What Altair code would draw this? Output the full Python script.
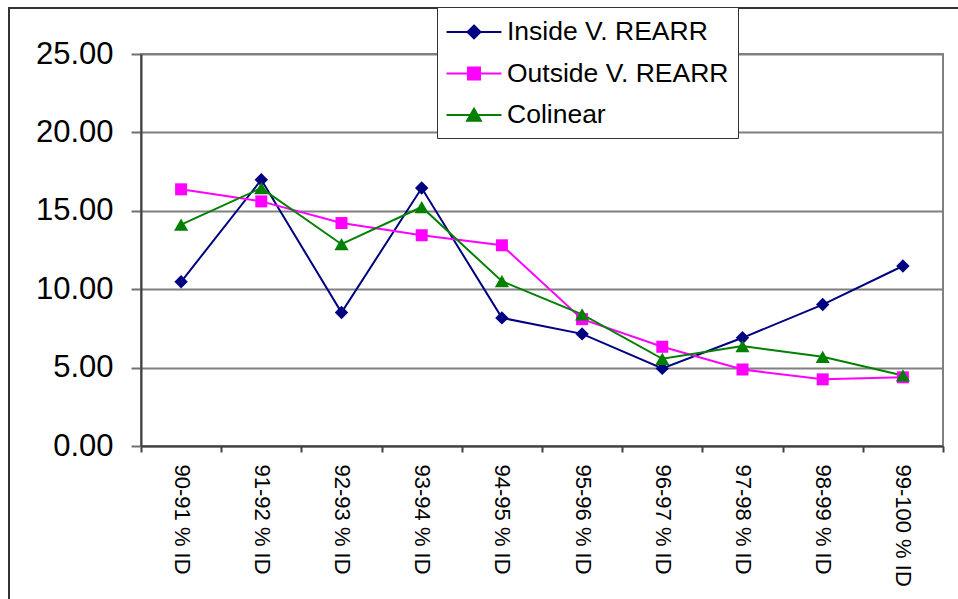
import altair as alt
import pandas as pd

# Percent-identity bins on the x axis
categories = [
    "90-91 % ID", "91-92 % ID", "92-93 % ID", "93-94 % ID", "94-95 % ID",
    "95-96 % ID", "96-97 % ID", "97-98 % ID", "98-99 % ID", "99-100 % ID",
]

# Series values per bin
inside = [10.47, 16.98, 8.51, 16.45, 8.17, 7.15, 4.95, 6.90, 9.02, 11.48]
outside = [16.37, 15.60, 14.22, 13.44, 12.80, 8.09, 6.33, 4.88, 4.25, 4.38]
colinear = [14.12, 16.45, 12.87, 15.24, 10.51, 8.39, 5.56, 6.37, 5.69, 4.50]

series_names = ["Inside V. REARR", "Outside V. REARR", "Colinear"]
series_colors = ["#000080", "#FF00FF", "#008000"]
marker_shapes = ["diamond", "square", "triangle-up"]

# Legend symbols: a short line with the series marker on top
legend_paths = [
    "M-1.83,0L1.83,0M0,-0.43L0.43,0L0,0.43L-0.43,0Z",
    "M-1.83,0L1.83,0M-0.4,-0.4L0.4,-0.4L0.4,0.4L-0.4,0.4Z",
    "M-1.83,0L1.83,0M0,-0.42L0.46,0.38L-0.46,0.38Z",
]

y_ticks = [0, 5, 10, 15, 20, 25]

rows = []
for name, values in zip(series_names, [inside, outside, colinear]):
    for cat, v in zip(categories, values):
        rows.append({"bin": cat, "series": name, "value": v})
df = pd.DataFrame(rows)

FONT = "Liberation Sans"

x_enc = alt.X(
    "bin:N",
    sort=categories,
    scale=alt.Scale(type="band", paddingInner=0, paddingOuter=0),
    axis=alt.Axis(
        title=None,
        tickBand="extent",
        labelAngle=90,
        labelAlign="left",
        labelBaseline="middle",
        labelFontSize=22,
        labelFont=FONT,
        labelColor="black",
        labelPadding=12,
        labelLimit=300,
        tickSize=6,
        tickColor="#404040",
        tickWidth=2,
        domainColor="#404040",
        domainWidth=2,
        grid=False,
    ),
)
y_enc = alt.Y(
    "value:Q",
    scale=alt.Scale(domain=[0, 25], nice=False, zero=True),
    axis=alt.Axis(
        title=None,
        values=y_ticks,
        format=".2f",
        labelFontSize=31,
        labelFont=FONT,
        labelColor="black",
        labelPadding=18,
        tickSize=10,
        tickColor="#707070",
        tickWidth=2,
        domainColor="#404040",
        domainWidth=2,
        grid=True,
        gridColor="#808080",
        gridWidth=2,
    ),
)

# Series colour for lines and markers (domain taken from the data, ordered by series_names)
color_enc = alt.Color("series:N", sort=series_names,
                      scale=alt.Scale(range=series_colors), legend=None)

base = alt.Chart(df)

lines = base.mark_line(strokeWidth=2).encode(x=x_enc, y=y_enc, color=color_enc)

marker_layers = []
for name, shape, size in zip(series_names, marker_shapes, [180, 144, 200]):
    marker_layers.append(
        base.transform_filter(alt.datum.series == name)
        .mark_point(shape=shape, filled=True, opacity=1, size=size)
        .encode(x=x_enc, y=y_enc, color=color_enc)
    )

# Legend: line + marker symbol per series, boxed, near the top of the plot
legend_def = alt.Legend(
    title=None,
    orient="none",
    legendX=296,
    legendY=-47,
    padding=9,
    fillColor="white",
    strokeColor="#333333",
    labelFontSize=26.5,
    labelFont=FONT,
    labelColor="black",
    labelLimit=400,
    labelOffset=17,
    symbolOffset=12,
    symbolSize=900,
    symbolStrokeWidth=2,
    rowPadding=11.5,
)

legend_layer = (
    base.mark_point(filled=True, opacity=1)
    .encode(
        x=x_enc,
        y=y_enc,
        size=alt.value(0),
        fill=alt.Fill("series:N", sort=series_names,
                      scale=alt.Scale(domain=series_names, range=series_colors),
                      legend=legend_def),
        stroke=alt.Stroke("series:N", sort=series_names,
                          scale=alt.Scale(domain=series_names, range=series_colors),
                          legend=legend_def),
        shape=alt.Shape("series:N", sort=series_names,
                        scale=alt.Scale(domain=series_names, range=legend_paths),
                        legend=legend_def),
    )
)

# Outer chart frame
frame = (
    alt.Chart(pd.DataFrame({"k": [0]}))
    .mark_rect(filled=False, stroke="#333333", strokeWidth=2)
    .encode(
        x=alt.value(-132), x2=alt.value(900),
        y=alt.value(-46), y2=alt.value(700),
    )
)

chart = (
    alt.layer(frame, lines, legend_layer, *marker_layers)
    .properties(
        width=802,
        height=392,
        padding={"left": 141, "top": 54, "right": 15, "bottom": 153},
        autosize=alt.AutoSizeParams(type="none"),
        background="white",
    )
    .configure_view(stroke="#808080", strokeWidth=2)
)

chart.save("out.html", embed_options={"renderer": "svg", "actions": False})
